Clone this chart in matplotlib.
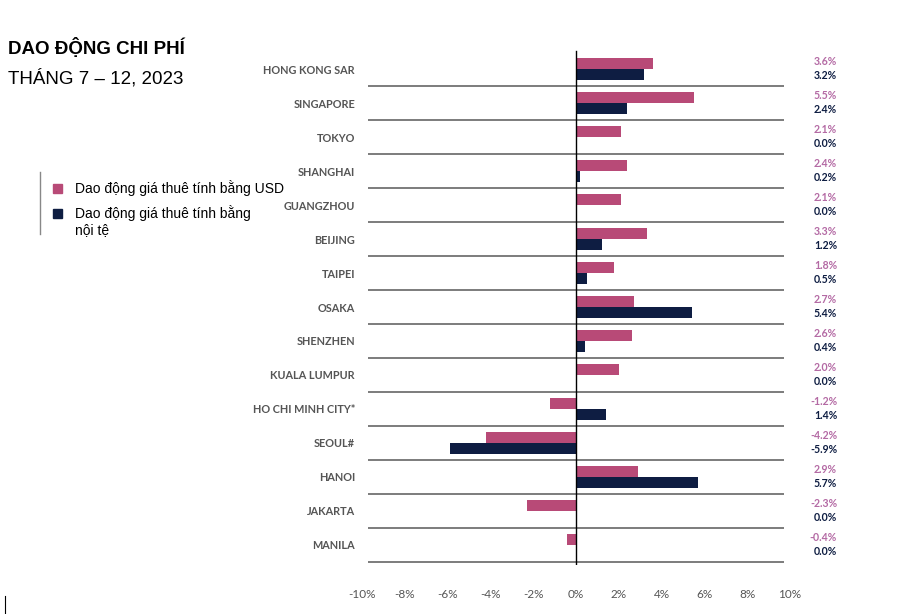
import matplotlib.pyplot as plt
import numpy as np

# Dữ liệu
cities = ["HONG KONG SAR", "SINGAPORE", "TOKYO", "SHANGHAI", "GUANGZHOU",
          "BEIJING", "TAIPEI", "OSAKA", "SHENZHEN", "KUALA LUMPUR",
          "HO CHI MINH CITY*", "SEOUL#", "HANOI", "JAKARTA", "MANILA"]
usd_change = [3.6, 5.5, 2.1, 2.4, 2.1, 3.3, 1.8, 2.7, 2.6, 2.0, -1.2, -4.2, 2.9, -2.3, -0.4]
local_change = [3.2, 2.4, 0.0, 0.2, 0.0, 1.2, 0.5, 5.4, 0.4, 0.0, 1.4, -5.9, 5.7, 0.0, 0.0]
xticks = [-10, -8, -6, -4, -2, 0, 2, 4, 6, 8, 10]

PINK = "#b84a77"
NAVY = "#0e1d42"
PINK_TXT = "#b46aa4"
GRAY_TXT = "#555555"

fig = plt.figure(figsize=(8.98, 6.14), dpi=100, facecolor="white")
ax = fig.add_axes([0.4031, 0.0792, 0.4766, 0.8416])

y = np.arange(len(cities))
h = 0.33
ax.barh(y - h / 2, usd_change, height=h, color=PINK)
ax.barh(y + h / 2, local_change, height=h, color=NAVY)

# đường phân cách giữa các hàng
ax.hlines(y + 0.5, -9.7, 9.7, color="#666666", linewidth=1.2)
ax.axvline(0, color="black", linewidth=1.0, ymin=0, ymax=0.995)

ax.set_xlim(-10, 10)
ax.set_ylim(14.6, -0.6)
for s in ax.spines.values():
    s.set_visible(False)

ax.set_yticks(y)
ax.set_yticklabels(cities, fontsize=7.8, fontweight="bold", color=GRAY_TXT, family="Lato")
ax.set_xticks(xticks)
ax.set_xticklabels([f"{v}%" for v in xticks], fontsize=8.5, color=GRAY_TXT, family="Lato")
ax.tick_params(axis="y", length=0, pad=5)
ax.tick_params(axis="x", length=0, pad=17)

# nhãn giá trị bên phải
for i, (u, l) in enumerate(zip(usd_change, local_change)):
    ax.text(1.11, i - 0.23, f"{u:.1f}%", transform=ax.get_yaxis_transform(),
            ha="right", va="center", fontsize=7.6, fontweight="bold", color=PINK_TXT, family="Lato")
    ax.text(1.11, i + 0.19, f"{l:.1f}%", transform=ax.get_yaxis_transform(),
            ha="right", va="center", fontsize=7.6, fontweight="bold", color=NAVY, family="Lato")

# tiêu đề
fig.text(8 / 898, 1 - 48 / 614, "DAO ĐỘNG CHI PHÍ", fontsize=13.5, fontweight="bold",
         family="Liberation Sans", va="center", ha="left")
fig.text(8 / 898, 1 - 78 / 614, "THÁNG 7 – 12, 2023", fontsize=13.5,
         family="Liberation Sans", va="center", ha="left")

# chú thích
fig.add_artist(plt.Line2D([40 / 898, 40 / 898], [1 - 172 / 614, 1 - 234 / 614],
                          color="#888888", linewidth=1))
fig.add_artist(plt.Rectangle((53 / 898, 1 - 193 / 614), 9 / 898, 9 / 614, color=PINK))
fig.add_artist(plt.Rectangle((53 / 898, 1 - 218 / 614), 9 / 898, 9 / 614, color=NAVY))
fig.text(75 / 898, 1 - 188 / 614, "Dao động giá thuê tính bằng USD", fontsize=10,
         family="Liberation Sans", va="center", ha="left")
fig.text(75 / 898, 1 - 213 / 614, "Dao động giá thuê tính bằng", fontsize=10,
         family="Liberation Sans", va="center", ha="left")
fig.text(75 / 898, 1 - 230 / 614, "nội tệ", fontsize=10,
         family="Liberation Sans", va="center", ha="left")

# vạch nhỏ góc dưới trái
fig.add_artist(plt.Line2D([5 / 898, 5 / 898], [0, 18 / 614], color="black", linewidth=0.8))

fig.savefig("out.png", dpi=100, facecolor="white")
